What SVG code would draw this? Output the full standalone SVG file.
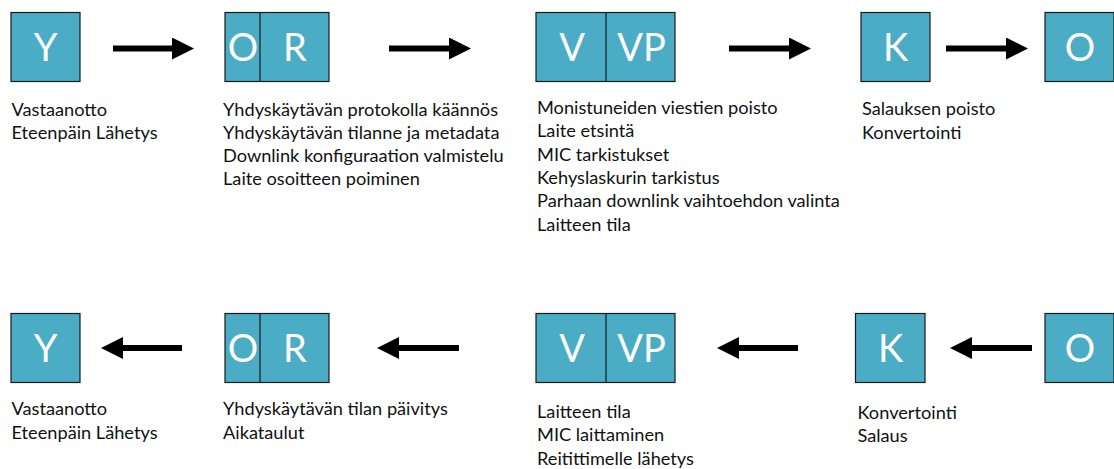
<svg xmlns="http://www.w3.org/2000/svg" width="1114" height="469" viewBox="0 0 1114 469">
  <style>
    .box { fill: #4BACC6; stroke: #1a1a1a; stroke-width: 1.2; }
    .div { stroke: #1a1a1a; stroke-width: 1.2; }
    .tag { font-family: Lato, "Liberation Sans", sans-serif; font-size: 38px; fill: #ffffff; text-anchor: middle; }
    .note { font-family: Lato, "Liberation Sans", sans-serif; font-size: 18.2px; fill: #111111; }
    .flow { stroke: #000000; stroke-width: 6; fill: none; marker-end: url(#head); }
  </style>
  <defs>
    <marker id="head" viewBox="0 0 22 22" refX="0" refY="11" markerWidth="22" markerHeight="22" markerUnits="userSpaceOnUse" orient="auto">
      <polygon points="0,0 22,11 0,22" fill="#000000"/>
    </marker>
  </defs>

  <!-- uplink row -->
  <g id="up-y">
    <rect class="box" x="11" y="12.5" width="69" height="69"/>
    <text class="tag" x="45.5" y="60.5">Y</text>
    <text class="note" x="11.5" y="115.5">Vastaanotto</text>
    <text class="note" x="11.5" y="139">Eteenpäin Lähetys</text>
  </g>
  <g id="up-or">
    <rect class="box" x="225" y="12.5" width="104" height="69"/>
    <line class="div" x1="260" y1="12.5" x2="260" y2="81.5"/>
    <text class="tag" x="243" y="60.5">O</text>
    <text class="tag" x="295" y="60.5">R</text>
    <text class="note" x="223" y="115.5">Yhdyskäytävän protokolla käännös</text>
    <text class="note" x="223" y="138.8">Yhdyskäytävän tilanne ja metadata</text>
    <text class="note" x="223" y="162.1">Downlink konfiguraation valmistelu</text>
    <text class="note" x="223" y="185.4">Laite osoitteen poiminen</text>
  </g>
  <g id="up-vvp">
    <rect class="box" x="536" y="12.5" width="139" height="69"/>
    <line class="div" x1="606" y1="12.5" x2="606" y2="81.5"/>
    <text class="tag" x="572" y="60.5">V</text>
    <text class="tag" x="641.5" y="60.5">VP</text>
    <text class="note" x="537" y="114">Monistuneiden viestien poisto</text>
    <text class="note" x="537" y="137.3">Laite etsintä</text>
    <text class="note" x="537" y="160.6">MIC tarkistukset</text>
    <text class="note" x="537" y="183.9">Kehyslaskurin tarkistus</text>
    <text class="note" x="537" y="207.2">Parhaan downlink vaihtoehdon valinta</text>
    <text class="note" x="537" y="230.5">Laitteen tila</text>
  </g>
  <g id="up-k">
    <rect class="box" x="861" y="12.5" width="69" height="69"/>
    <text class="tag" x="895.5" y="60.5">K</text>
    <text class="note" x="862" y="115">Salauksen poisto</text>
    <text class="note" x="862" y="138.5">Konvertointi</text>
  </g>
  <g id="up-o">
    <rect class="box" x="1045" y="12.5" width="69" height="69"/>
    <text class="tag" x="1080" y="60.5">O</text>
  </g>

  <!-- downlink row -->
  <g id="down-y">
    <rect class="box" x="11" y="313.5" width="69" height="69"/>
    <text class="tag" x="45.5" y="361.5">Y</text>
    <text class="note" x="11.5" y="415">Vastaanotto</text>
    <text class="note" x="11.5" y="438.5">Eteenpäin Lähetys</text>
  </g>
  <g id="down-or">
    <rect class="box" x="225" y="313.5" width="104" height="69"/>
    <line class="div" x1="260" y1="313.5" x2="260" y2="382.5"/>
    <text class="tag" x="243" y="361.5">O</text>
    <text class="tag" x="295" y="361.5">R</text>
    <text class="note" x="223" y="415">Yhdyskäytävän tilan päivitys</text>
    <text class="note" x="223" y="438.5">Aikataulut</text>
  </g>
  <g id="down-vvp">
    <rect class="box" x="536" y="313.5" width="139" height="69"/>
    <line class="div" x1="606" y1="313.5" x2="606" y2="382.5"/>
    <text class="tag" x="572" y="361.5">V</text>
    <text class="tag" x="641.5" y="361.5">VP</text>
    <text class="note" x="537" y="418">Laitteen tila</text>
    <text class="note" x="537" y="441.3">MIC laittaminen</text>
    <text class="note" x="537" y="464.6">Reitittimelle lähetys</text>
  </g>
  <g id="down-k">
    <rect class="box" x="855.5" y="313.5" width="69.5" height="69"/>
    <text class="tag" x="890.5" y="361.5">K</text>
    <text class="note" x="857.5" y="419">Konvertointi</text>
    <text class="note" x="857.5" y="442.3">Salaus</text>
  </g>
  <g id="down-o">
    <rect class="box" x="1045" y="313.5" width="69" height="69"/>
    <text class="tag" x="1080" y="361.5">O</text>
  </g>

  <!-- connectors -->
  <g id="connectors">
    <path class="flow" d="M113,48.5 H172"/>
    <path class="flow" d="M389,48.5 H449"/>
    <path class="flow" d="M729,48.5 H789"/>
    <path class="flow" d="M946,48.5 H1006"/>
    <path class="flow" d="M182,348 H123"/>
    <path class="flow" d="M459,348 H399"/>
    <path class="flow" d="M798,348 H739"/>
    <path class="flow" d="M1032,348 H972"/>
  </g>
</svg>
